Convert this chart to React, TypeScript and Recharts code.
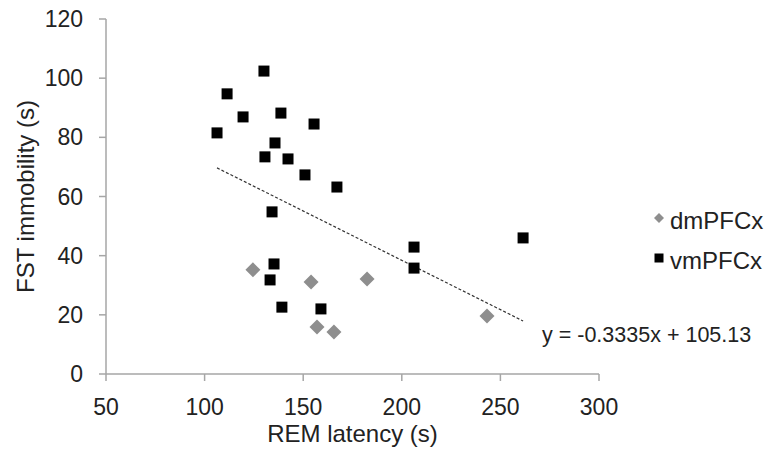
import { ReferenceLine, Scatter, ScatterChart, XAxis, YAxis } from "recharts";

// REM latency (s) and FST immobility (s) per animal
const dmLatency = [124.5, 154.0, 182.4, 157.0, 165.6, 243.2];
const dmImmobility = [35.2, 31.1, 32.1, 15.9, 14.2, 19.6];

const vmLatency = [
  106.3, 111.4, 119.5, 130.1, 138.7, 135.7, 130.6, 142.3, 155.5, 150.9,
  167.1, 134.2, 135.2, 133.2, 139.2, 159.0, 206.2, 206.2, 261.5,
];
const vmImmobility = [
  81.5, 94.7, 86.9, 102.4, 88.2, 78.1, 73.4, 72.7, 84.5, 67.3, 63.2, 54.8,
  37.2, 31.8, 22.6, 22.0, 42.9, 35.8, 46.0,
];

const seriesNames = ["dmPFCx", "vmPFCx"];
const xTicks = [50, 100, 150, 200, 250, 300];
const yTicks = [0, 20, 40, 60, 80, 100, 120];

const trendSlope = -0.3335;
const trendIntercept = 105.13;

const FONT = '"Liberation Sans", Arial, sans-serif';
const AXIS_GREY = "#a6a6a6";
const TEXT = "#222";
const DIAMOND_FILL = "#8e8e8e";

const dmData = dmLatency.map((x, i) => ({ x, y: dmImmobility[i] }));
const vmData = vmLatency.map((x, i) => ({ x, y: vmImmobility[i] }));

const allX = [...dmLatency, ...vmLatency];
const trendX0 = Math.min(...allX);
const trendX1 = Math.max(...allX);
const trendSegment = [
  { x: trendX0, y: trendSlope * trendX0 + trendIntercept },
  { x: trendX1, y: trendSlope * trendX1 + trendIntercept },
];

const Diamond = (props: any) => {
  const { cx, cy } = props;
  const r = 7.5;
  return (
    <polygon
      points={`${cx},${cy - r} ${cx + r},${cy} ${cx},${cy + r} ${cx - r},${cy}`}
      fill={DIAMOND_FILL}
    />
  );
};

const Square = (props: any) => {
  const { cx, cy } = props;
  const s = 11;
  return <rect x={cx - s / 2} y={cy - s / 2} width={s} height={s} fill="#000" />;
};

function LegendMarker({ kind }: { kind: string }) {
  return (
    <svg width={12} height={12} style={{ position: "relative", top: -3, marginRight: 5 }}>
      {kind === "diamond" ? (
        <polygon points="6,1 11,6 6,11 1,6" fill={DIAMOND_FILL} />
      ) : (
        <rect x={1.5} y={1.5} width={9} height={9} fill="#000" />
      )}
    </svg>
  );
}

export default function App() {
  return (
    <div
      style={{
        position: "absolute",
        left: 0,
        top: 0,
        width: 770,
        height: 460,
        background: "#fff",
        fontFamily: FONT,
      }}
    >
      <ScatterChart
        width={770}
        height={460}
        margin={{ top: 19, right: 171, bottom: 0, left: 0 }}
        style={{ fontFamily: FONT }}
      >
        <XAxis
          type="number"
          dataKey="x"
          domain={[50, 300]}
          ticks={xTicks}
          height={86}
          tick={{ fill: TEXT, fontSize: 23 }}
          tickSize={7}
          tickMargin={18}
          axisLine={{ stroke: AXIS_GREY, strokeWidth: 1.5 }}
          tickLine={{ stroke: AXIS_GREY, strokeWidth: 1.5 }}
          label={{
            value: "REM latency (s)",
            position: "insideBottom",
            offset: 18,
            fill: TEXT,
            fontSize: 24,
          }}
        />
        <YAxis
          type="number"
          dataKey="y"
          domain={[0, 120]}
          ticks={yTicks}
          width={106}
          tick={{ fill: TEXT, fontSize: 23 }}
          tickSize={7}
          tickMargin={16}
          axisLine={{ stroke: AXIS_GREY, strokeWidth: 1.5 }}
          tickLine={{ stroke: AXIS_GREY, strokeWidth: 1.5 }}
          label={{
            value: "FST immobility (s)",
            angle: -90,
            position: "insideLeft",
            offset: 25,
            fill: TEXT,
            fontSize: 24,
            style: { textAnchor: "middle" },
          }}
        />
        <ReferenceLine
          segment={trendSegment}
          stroke="#333"
          strokeWidth={1.2}
          strokeDasharray="3 2"
        />
        <Scatter
          name={seriesNames[0]}
          data={dmData}
          shape={Diamond}
          isAnimationActive={false}
        />
        <Scatter
          name={seriesNames[1]}
          data={vmData}
          shape={Square}
          isAnimationActive={false}
        />
      </ScatterChart>

      <div
        style={{
          position: "absolute",
          left: 653,
          top: 201,
          fontSize: 24,
          color: TEXT,
          lineHeight: "40px",
        }}
      >
        {seriesNames.map((name, i) => (
          <div key={name} style={{ display: "flex", alignItems: "center", height: 40 }}>
            <LegendMarker kind={i === 0 ? "diamond" : "square"} />
            <span>{name}</span>
          </div>
        ))}
      </div>

      <div
        style={{
          position: "absolute",
          left: 542,
          top: 322,
          fontSize: 21.5,
          lineHeight: "26px",
          color: TEXT,
          whiteSpace: "nowrap",
        }}
      >
        {`y = ${trendSlope}x + ${trendIntercept}`}
      </div>
    </div>
  );
}
